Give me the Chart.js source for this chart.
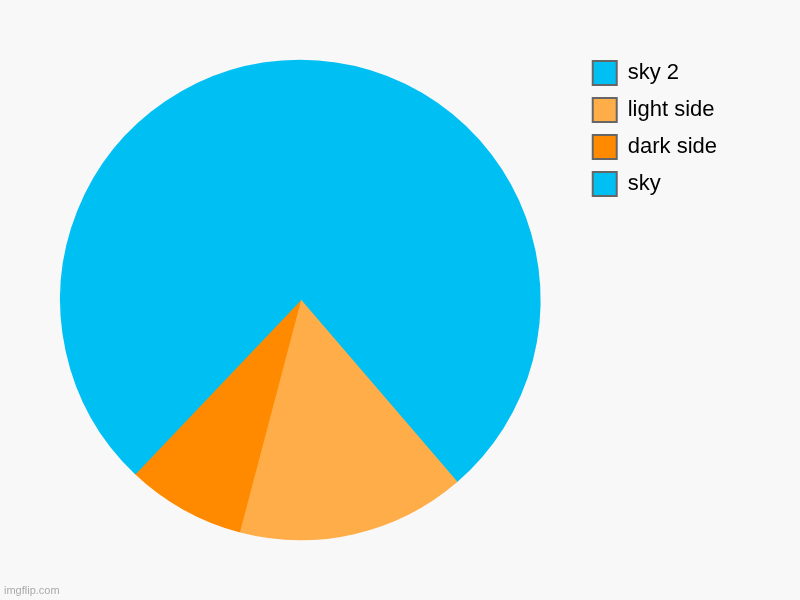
<!DOCTYPE html>
<html>
<head>
<meta charset="utf-8">
<script src="https://cdn.jsdelivr.net/npm/chart.js@4/dist/chart.umd.min.js"></script>
<style>
  html, body { margin: 0; padding: 0; background: #f8f8f8; }
  #wrap { position: relative; width: 800px; height: 600px; }
  #mark { position: absolute; left: 4px; top: 584px; font: 11px "Liberation Sans", Arial, sans-serif; color: #aaa; }
</style>
</head>
<body>
<div id="wrap">
  <canvas id="myChart" width="800" height="600"></canvas>
  <div id="mark">imgflip.com</div>
</div>
<script>
var labels = ["sky 2", "light side", "dark side", "sky"];
var values = [38.7, 15.4, 8.0, 37.9];
var colors = ["#00bff3", "#ffad48", "#ff8a00", "#00bff3"];

new Chart("myChart", {
  type: "pie",
  data: {
    labels: labels,
    datasets: [{
      data: values,
      backgroundColor: colors,
      borderColor: colors,
      borderWidth: 1.5,
      radius: 239.5
    }]
  },
  options: {
    responsive: false,
    animation: false,
    layout: { padding: { left: 21, right: 73, top: 48, bottom: 48 } },
    plugins: {
      tooltip: { enabled: false },
      legend: {
        position: "right",
        align: "start",
        labels: {
          boxWidth: 24,
          boxHeight: 24,
          padding: 13,
          color: "#111",
          font: { family: "'Liberation Sans', Arial, sans-serif", size: 22 },
          generateLabels: function(chart) {
            return labels.map(function(l, i) {
              return { text: l, fillStyle: colors[i], strokeStyle: "#666", lineWidth: 2, index: i, hidden: false };
            });
          }
        }
      }
    }
  }
});
</script>
</body>
</html>
